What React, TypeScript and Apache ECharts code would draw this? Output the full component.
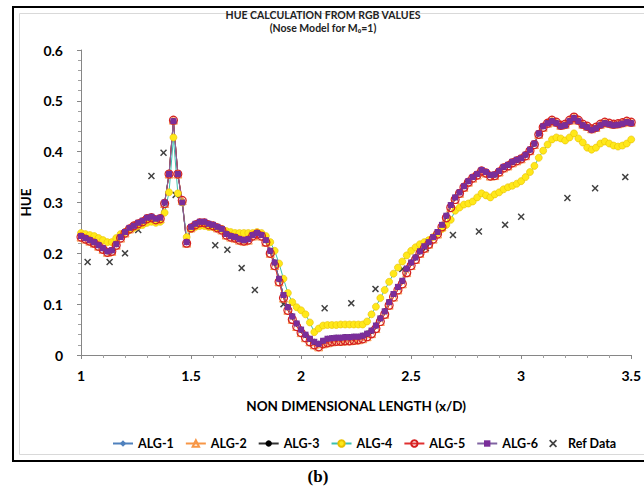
import React, { useEffect, useRef } from 'react';
import * as echarts from 'echarts';

// x/D sample positions (step 0.02)
const xPositions = [
  1.00, 1.02, 1.04, 1.06, 1.08, 1.10, 1.12, 1.14, 1.16, 1.18, 1.20, 1.22, 1.24, 1.26, 1.28, 1.30, 1.32, 1.34, 1.36, 1.38, 1.40, 1.42, 1.44, 1.46, 1.48,
  1.50, 1.52, 1.54, 1.56, 1.58, 1.60, 1.62, 1.64, 1.66, 1.68, 1.70, 1.72, 1.74, 1.76, 1.78, 1.80, 1.82, 1.84, 1.86, 1.88, 1.90, 1.92, 1.94, 1.96, 1.98,
  2.00, 2.02, 2.04, 2.06, 2.08, 2.10, 2.12, 2.14, 2.16, 2.18, 2.20, 2.22, 2.24, 2.26, 2.28, 2.30, 2.32, 2.34, 2.36, 2.38, 2.40, 2.42, 2.44, 2.46, 2.48,
  2.50, 2.52, 2.54, 2.56, 2.58, 2.60, 2.62, 2.64, 2.66, 2.68, 2.70, 2.72, 2.74, 2.76, 2.78, 2.80, 2.82, 2.84, 2.86, 2.88, 2.90, 2.92, 2.94, 2.96, 2.98,
  3.00, 3.02, 3.04, 3.06, 3.08, 3.10, 3.12, 3.14, 3.16, 3.18, 3.20, 3.22, 3.24, 3.26, 3.28, 3.30, 3.32, 3.34, 3.36, 3.38, 3.40, 3.42, 3.44, 3.46, 3.48, 3.50,
];

// ALG-1, ALG-3, ALG-6 (overlapping curves)
const hueAlg136 = [
  0.234, 0.230, 0.226, 0.222, 0.216, 0.210, 0.204, 0.206, 0.218, 0.232, 0.242, 0.250, 0.254, 0.260, 0.264, 0.270, 0.272, 0.268, 0.270, 0.300, 0.356, 0.460, 0.356, 0.300, 0.222,
  0.252, 0.258, 0.262, 0.262, 0.258, 0.256, 0.252, 0.248, 0.238, 0.234, 0.232, 0.228, 0.226, 0.228, 0.236, 0.240, 0.236, 0.226, 0.205, 0.182, 0.150, 0.118, 0.094, 0.076, 0.062,
  0.050, 0.040, 0.032, 0.026, 0.022, 0.028, 0.032, 0.033, 0.034, 0.034, 0.035, 0.035, 0.036, 0.036, 0.038, 0.042, 0.048, 0.058, 0.072, 0.086, 0.104, 0.120, 0.134, 0.146, 0.170,
  0.182, 0.192, 0.204, 0.214, 0.222, 0.232, 0.242, 0.256, 0.274, 0.295, 0.310, 0.320, 0.332, 0.342, 0.350, 0.356, 0.364, 0.360, 0.354, 0.355, 0.362, 0.370, 0.374, 0.380, 0.384,
  0.387, 0.394, 0.404, 0.416, 0.436, 0.450, 0.456, 0.460, 0.456, 0.450, 0.452, 0.460, 0.466, 0.460, 0.452, 0.448, 0.443, 0.446, 0.452, 0.456, 0.454, 0.452, 0.453, 0.455, 0.458, 0.456,
];

// ALG-2, ALG-5
const hueAlg25 = [
  0.232, 0.228, 0.224, 0.220, 0.214, 0.208, 0.202, 0.204, 0.216, 0.230, 0.240, 0.248, 0.254, 0.258, 0.262, 0.268, 0.270, 0.266, 0.268, 0.298, 0.356, 0.462, 0.356, 0.304, 0.220,
  0.250, 0.256, 0.260, 0.260, 0.256, 0.254, 0.250, 0.246, 0.236, 0.232, 0.230, 0.226, 0.224, 0.226, 0.234, 0.238, 0.234, 0.222, 0.200, 0.176, 0.144, 0.112, 0.088, 0.070, 0.056,
  0.044, 0.034, 0.026, 0.020, 0.016, 0.022, 0.024, 0.026, 0.027, 0.027, 0.028, 0.028, 0.029, 0.030, 0.032, 0.036, 0.042, 0.052, 0.066, 0.080, 0.098, 0.114, 0.128, 0.140, 0.162,
  0.176, 0.188, 0.200, 0.210, 0.218, 0.228, 0.238, 0.252, 0.270, 0.290, 0.306, 0.318, 0.330, 0.340, 0.348, 0.354, 0.362, 0.358, 0.352, 0.353, 0.360, 0.368, 0.372, 0.378, 0.382,
  0.386, 0.392, 0.402, 0.414, 0.434, 0.448, 0.456, 0.462, 0.458, 0.452, 0.454, 0.462, 0.468, 0.462, 0.454, 0.450, 0.445, 0.448, 0.454, 0.458, 0.456, 0.454, 0.455, 0.457, 0.460, 0.458,
];

// ALG-4
const hueAlg4 = [
  0.240, 0.238, 0.236, 0.234, 0.230, 0.226, 0.222, 0.222, 0.230, 0.238, 0.242, 0.246, 0.250, 0.254, 0.256, 0.260, 0.262, 0.260, 0.262, 0.280, 0.320, 0.428, 0.318, 0.300, 0.232,
  0.248, 0.252, 0.254, 0.254, 0.252, 0.252, 0.250, 0.248, 0.244, 0.242, 0.240, 0.240, 0.240, 0.240, 0.240, 0.242, 0.240, 0.234, 0.222, 0.205, 0.180, 0.150, 0.122, 0.104, 0.094,
  0.088, 0.080, 0.064, 0.045, 0.052, 0.058, 0.059, 0.059, 0.059, 0.060, 0.060, 0.060, 0.060, 0.060, 0.060, 0.066, 0.080, 0.095, 0.112, 0.128, 0.144, 0.160, 0.172, 0.184, 0.196,
  0.205, 0.212, 0.218, 0.222, 0.226, 0.232, 0.240, 0.248, 0.256, 0.266, 0.284, 0.290, 0.296, 0.298, 0.302, 0.310, 0.318, 0.314, 0.310, 0.316, 0.320, 0.326, 0.330, 0.333, 0.337,
  0.342, 0.350, 0.360, 0.372, 0.388, 0.402, 0.414, 0.424, 0.428, 0.426, 0.422, 0.428, 0.436, 0.426, 0.418, 0.408, 0.404, 0.408, 0.416, 0.420, 0.416, 0.412, 0.410, 0.412, 0.416, 0.424,
];

// Reference data
const refX = [1.03, 1.13, 1.2, 1.26, 1.32, 1.375, 1.43, 1.61, 1.665, 1.73, 1.79, 1.92, 2.107, 2.228, 2.338, 2.46, 2.567, 2.69, 2.808, 2.927, 3.0, 3.21, 3.336, 3.473];
const refY = [0.183, 0.183, 0.2, 0.246, 0.352, 0.398, 0.315, 0.216, 0.207, 0.171, 0.128, 0.1, 0.092, 0.102, 0.13, 0.169, 0.21, 0.236, 0.243, 0.256, 0.272, 0.309, 0.328, 0.35];

const titleLines = ['HUE CALCULATION FROM RGB VALUES', '(Nose Model for M\u2080=1)'];
const xAxisName = 'NON DIMENSIONAL LENGTH (x/D)';
const yAxisName = 'HUE';
const panelLabel = '(b)';

const FONT = 'Lato, "Open Sans", sans-serif';
const XSYM = 'path://M0,1.5L1.5,0L5,3.5L8.5,0L10,1.5L6.5,5L10,8.5L8.5,10L5,6.5L1.5,10L0,8.5L3.5,5Z';

export default function App() {
  const ref = useRef<HTMLDivElement>(null);
  useEffect(() => {
    const chart = echarts.init(ref.current!, null, { renderer: 'svg' });
    const pair = (ys: number[]) => xPositions.map((x, i) => [x, ys[i]]);
    const lineSeries = (name: string, ys: number[], lineColor: string, symbol: string, size: number, item: any) => ({
      name,
      type: 'line',
      data: pair(ys),
      symbol,
      symbolSize: size,
      showAllSymbol: true,
      lineStyle: { color: lineColor, width: 1 },
      itemStyle: item,
      emphasis: { disabled: true },
    });
    chart.setOption({
      animation: false,
      textStyle: { fontFamily: FONT },
      grid: { left: 81, right: 4, top: 50, bottom: 135, containLabel: false },
      xAxis: {
        type: 'value',
        min: 1,
        max: 3.5,
        interval: 0.5,
        name: xAxisName,
        nameLocation: 'middle',
        nameGap: 44,
        nameTextStyle: { fontSize: 13.5, fontWeight: 'bold', color: '#000', fontFamily: FONT },
        axisLine: { show: true, lineStyle: { color: '#868686' } },
        axisTick: { show: true, length: 4, lineStyle: { color: '#868686' } },
        minorTick: { show: true, splitNumber: 5, length: 3, lineStyle: { color: '#a0a0a0' } },
        axisLabel: { fontSize: 14, fontWeight: 'bold', color: '#000', margin: 13, fontFamily: FONT },
        splitLine: { show: false },
      },
      yAxis: {
        type: 'value',
        min: 0,
        max: 0.6,
        interval: 0.1,
        name: yAxisName,
        nameLocation: 'middle',
        nameGap: 44,
        nameRotate: 90,
        nameTextStyle: { fontSize: 13.5, fontWeight: 'bold', color: '#000', fontFamily: FONT },
        axisLine: { show: true, lineStyle: { color: '#868686' } },
        axisTick: { show: true, length: 4, lineStyle: { color: '#868686' } },
        minorTick: { show: true, splitNumber: 5, length: 3, lineStyle: { color: '#a0a0a0' } },
        axisLabel: {
          fontSize: 14, fontWeight: 'bold', color: '#000', margin: 18, fontFamily: FONT,
          formatter: (v: number) => (v === 0 ? '0' : v.toFixed(1)),
        },
        splitLine: { show: false },
      },
      legend: {
        top: 432,
        left: 107,
        itemWidth: 20,
        itemHeight: 8,
        itemGap: 11,
        textStyle: { fontSize: 12.5, fontWeight: 'bold', color: '#000', fontFamily: FONT },
        data: ['ALG-1', 'ALG-2', 'ALG-3', 'ALG-4', 'ALG-5', 'ALG-6', 'Ref Data'],
      },
      graphic: [
        { type: 'rect', shape: { x: 13, y: 7, width: 660, height: 454 }, style: { fill: 'none', stroke: '#000', lineWidth: 2 }, silent: true },
        { type: 'rect', shape: { x: 19.5, y: 13.5, width: 660, height: 441 }, style: { fill: 'none', stroke: '#d9d9d9', lineWidth: 1 }, silent: true },
        {
          type: 'text', x: 323, y: 8,
          style: { text: titleLines.join('\n'), textAlign: 'center', font: `bold 10.5px ${FONT}`, lineHeight: 13, fill: '#222' },
        },
        {
          type: 'text', x: 318, y: 468,
          style: { text: panelLabel, textAlign: 'center', font: 'bold 17px "Liberation Serif", serif', fill: '#000' },
        },
      ],
      series: [
        lineSeries('ALG-1', hueAlg136, '#4F81BD', 'diamond', 6, { color: '#4F81BD' }),
        lineSeries('ALG-2', hueAlg25, '#F79646', 'triangle', 8, { color: 'rgba(0,0,0,0)', borderColor: '#F79646', borderWidth: 1 }),
        lineSeries('ALG-3', hueAlg136, '#333333', 'circle', 6, { color: '#000' }),
        lineSeries('ALG-4', hueAlg4, '#3CC0B0', 'circle', 7, { color: '#FFE81A', borderColor: '#E8C000', borderWidth: 0.6 }),
        lineSeries('ALG-5', hueAlg25, '#E03030', 'circle', 8, { color: 'rgba(0,0,0,0)', borderColor: '#D42020', borderWidth: 1.2 }),
        lineSeries('ALG-6', hueAlg136, '#8064A2', 'rect', 6, { color: '#7A2E9A' }),
        {
          name: 'Ref Data',
          type: 'scatter',
          data: refX.map((x, i) => [x, refY[i]]),
          symbol: XSYM,
          symbolSize: 7,
          itemStyle: { color: '#111' },
          emphasis: { disabled: true },
        },
      ],
    });
    return () => chart.dispose();
  }, []);
  return <div ref={ref} style={{ position: 'absolute', left: 0, top: 0, width: 644, height: 490, background: '#fff' }} />;
}
